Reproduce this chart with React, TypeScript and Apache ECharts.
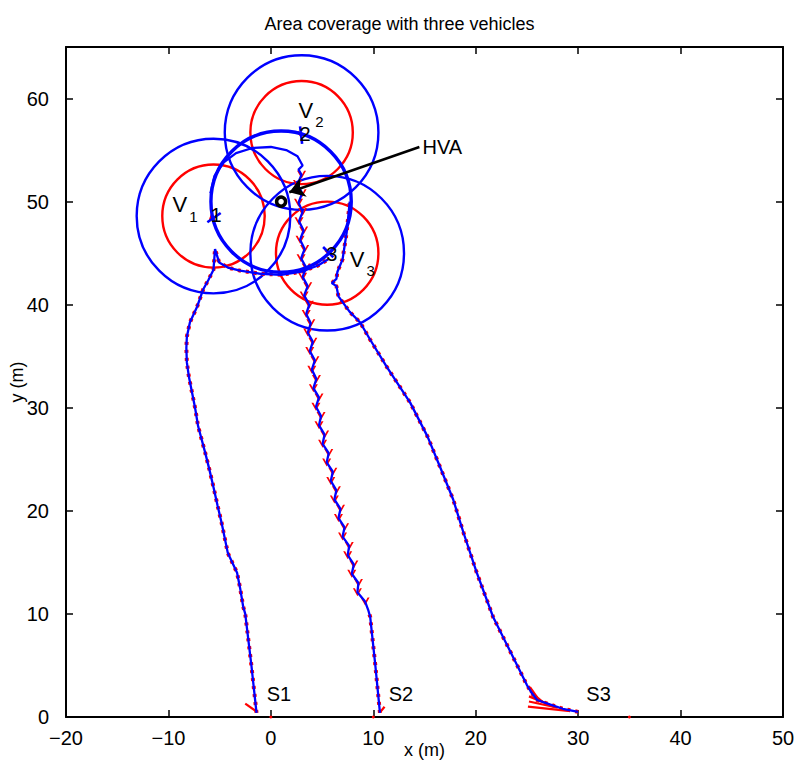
import React, { useEffect, useRef } from "react";
import * as echarts from "echarts";

// ---------- axis ----------
const X_MIN = -20;
const X_MAX = 50;
const X_STEP = 10;
const Y_MIN = 0;
const Y_MAX = 65;
const Y_STEP = 10;

// ---------- trajectories ----------
const v1Path: number[][] = [
  [-1.4, 0.4], [-1.9, 5.0], [-2.5, 10.0], [-2.7, 10.7], [-3.0, 12.5], [-3.3, 14.0],
  [-4.2, 15.9], [-4.8, 18.8], [-5.2, 20.5], [-5.6, 22.3], [-6.0, 24.0], [-6.4, 25.6],
  [-7.1, 28.2], [-7.4, 30.0], [-7.7, 31.5], [-8.0, 33.0], [-8.2, 34.4], [-8.25, 35.8],
  [-8.2, 36.9], [-7.9, 38.3], [-7.2, 39.8], [-6.6, 41.5], [-6.1, 42.4], [-5.6, 43.4],
  [-5.45, 45.4], [-5.05, 44.1], [-4.2, 43.6], [-3.0, 43.3], [-1.0, 43.0], [1.0, 42.9],
  [3.0, 43.2], [4.6, 43.8], [5.6, 44.4],
];

const v2Lower: number[][] = [[10.65, 0.4], [10.2, 5.0], [9.7, 9.7], [9.5, 10.4]];
const v2Zigzag: number[][] = [
  [9.2, 11.2], [8.45, 12.1], [8.55, 13.0], [7.9, 13.9], [8.1, 14.8], [7.5, 15.7],
  [7.65, 16.6], [7.0, 17.5], [7.2, 18.4], [6.6, 19.3], [6.8, 20.2], [6.2, 21.1],
  [6.4, 22.0], [5.85, 22.9], [6.05, 23.8], [5.45, 24.7], [5.65, 25.6], [5.05, 26.5],
  [5.25, 27.4], [4.7, 28.3], [4.9, 29.2], [4.4, 30.1], [4.7, 31.0], [4.15, 31.9],
  [4.45, 32.8], [4.0, 33.7], [4.3, 34.6], [3.8, 35.5], [4.1, 36.4], [3.6, 37.3],
  [3.9, 38.2], [3.45, 39.1], [3.75, 40.0], [3.25, 40.9], [3.6, 41.8], [3.1, 42.7],
  [3.45, 43.6], [2.95, 44.5], [3.3, 45.4], [2.85, 46.3], [3.2, 47.2], [2.75, 48.1],
  [3.1, 49.0], [2.7, 49.9], [3.05, 50.8], [2.6, 51.7], [3.0, 52.6],
];
const v2Upper: number[][] = [
  [2.7, 53.1], [3.1, 53.5], [2.6, 54.4], [1.5, 55.0], [0.0, 55.3], [-1.8, 55.2],
  [-3.4, 54.7], [-4.6, 53.8], [-5.5, 52.5], [-5.9, 50.8],
];

const v3Path: number[][] = [
  [30.0, 0.5], [28.5, 0.8], [27.3, 1.2], [26.0, 1.65], [25.5, 2.3], [25.0, 3.1],
  [23.4, 6.3], [21.7, 9.7], [20.1, 14.0], [18.8, 17.9], [17.8, 21.1], [16.5, 24.3],
  [15.3, 27.2], [13.6, 30.5], [11.3, 34.0], [9.7, 36.6], [8.7, 38.3], [7.7, 39.3],
  [6.6, 40.8], [6.4, 41.8], [5.95, 42.1], [6.4, 42.5], [6.5, 43.2], [7.0, 44.4],
  [7.4, 47.0], [7.7, 50.0],
];

// ---------- circles ----------
const vehicleCenters: number[][] = [[-5.6, 48.6], [3.0, 56.7], [5.5, 45.0]];
const INNER_RADIUS = 5;
const OUTER_RADIUS = 7.5;
const hva: number[] = [1.0, 50.0];
const ORBIT_RADIUS = 6.85;

// ---------- short segments ----------
const headingMarks: number[][][] = [
  [[-6.2, 48.0], [-4.9, 48.9]],
  [[2.85, 57.3], [3.05, 55.6]],
  [[5.1, 45.6], [6.1, 44.6]],
];
const redTicks: number[][][] = [
  [[-5.95, 48.2], [-5.75, 48.8]],
  [[2.6, 56.8], [3.0, 56.3]],
  [[5.3, 45.3], [5.6, 45.0]],
  [[-1.5, 0.6], [-2.5, 1.3]],
  [[10.7, 0.5], [11.1, 1.0]],
  [[29.0, 0.6], [25.1, 1.0]],
  [[28.0, 0.9], [25.2, 1.5]],
  [[27.2, 1.2], [25.2, 2.0]],
  [[26.5, 1.5], [25.3, 2.5]],
  [[26.0, 1.9], [25.3, 2.9]],
];
const axisDots: number[][] = [[0, 0], [10, 0], [35, 0]];
const hvaArrow: number[][] = [[14.5, 55.3], [1.8, 50.9]];

// ---------- texts: [x, y, text] ----------
const vLabels: (number | string)[][] = [
  [-9.6, 49.3, "1"],
  [2.7, 58.5, "2"],
  [7.7, 44.0, "3"],
];
const plainLabels: (number | string)[][] = [
  [-5.9, 48.7, "1"],
  [2.8, 56.6, "2"],
  [5.4, 44.9, "3"],
  [-0.4, 2.2, "S1"],
  [11.5, 2.2, "S2"],
  [30.8, 2.2, "S3"],
  [14.8, 55.3, "HVA"],
];

const FONT = "'Liberation Sans', Arial, Helvetica, sans-serif";
const BLUE = "#0000ff";
const RED = "#ff0000";

const fmt = (v: number) => (v % 10 === 0 ? String(v).replace("-", "\u2212") : "");

export default function App() {
  const ref = useRef<HTMLDivElement>(null);
  useEffect(() => {
    document.body.style.margin = "0";
    if (!ref.current) return;
    const chart = echarts.init(ref.current, null, { renderer: "svg" });

    const circleSeries = (data: number[][], color: string, width: number, z: number) => ({
      type: "custom",
      coordinateSystem: "cartesian2d",
      data,
      encode: { x: 0, y: 1 },
      silent: true,
      z,
      renderItem: (_p: any, api: any) => {
        const c = api.coord([api.value(0), api.value(1)]);
        const s = api.size([api.value(2), api.value(2)]);
        return {
          type: "ellipse",
          shape: { cx: c[0], cy: c[1], rx: s[0], ry: s[1] },
          style: { fill: "none", stroke: color, lineWidth: width },
        };
      },
    });

    const lineSeries = (data: number[][], z: number) => ({
      type: "line",
      data,
      showSymbol: false,
      symbol: "none",
      silent: true,
      z,
      lineStyle: { color: BLUE, width: 2.3 },
    });

    const redUnder = (data: number[][]) => ({
      type: "line",
      data,
      showSymbol: false,
      symbol: "none",
      silent: true,
      z: 3,
      lineStyle: { color: RED, width: 4, type: [3, 5] },
    });

    const axisCommon = {
      type: "value",
      axisLine: { show: true, onZero: false, lineStyle: { color: "#000", width: 2 } },
      axisTick: { show: true, inside: true, length: 7, lineStyle: { color: "#000", width: 1.5 } },
      splitLine: { show: false },
    };

    const textCommon = { fontFamily: FONT, color: "#000" };

    const option: any = {
      animation: false,
      backgroundColor: "#fff",
      textStyle: { fontFamily: FONT },
      title: {
        text: "Area coverage with three vehicles",
        left: "center",
        top: 10,
        textStyle: { ...textCommon, fontSize: 18, fontWeight: "normal" },
      },
      grid: {
        left: 66,
        right: 16,
        top: 47,
        bottom: 50,
        containLabel: false,
        outerBoundsMode: "none",
      },
      xAxis: [
        {
          ...axisCommon,
          position: "bottom",
          min: X_MIN,
          max: X_MAX,
          interval: X_STEP,
          name: "x (m)",
          nameLocation: "middle",
          nameGap: 24,
          nameMoveOverlap: false,
          nameTextStyle: { ...textCommon, fontSize: 18, verticalAlign: "top" },
          axisLabel: { formatter: fmt, ...textCommon, fontSize: 20, margin: 11 },
        },
        {
          ...axisCommon,
          position: "top",
          min: X_MIN,
          max: X_MAX,
          interval: X_STEP,
          axisLabel: { show: false },
        },
      ],
      yAxis: [
        {
          ...axisCommon,
          position: "left",
          min: Y_MIN,
          max: Y_MAX,
          interval: Y_STEP,
          name: "y (m)",
          nameLocation: "middle",
          nameGap: 40,
          nameMoveOverlap: false,
          nameTextStyle: { ...textCommon, fontSize: 18 },
          axisLabel: { formatter: fmt, ...textCommon, fontSize: 20, margin: 17 },
        },
        {
          ...axisCommon,
          position: "right",
          min: Y_MIN,
          max: Y_MAX,
          interval: Y_STEP,
          axisLabel: { show: false },
        },
      ],
      series: [
        circleSeries(vehicleCenters.map((c) => [c[0], c[1], INNER_RADIUS]), RED, 2.4, 2),
        circleSeries(vehicleCenters.map((c) => [c[0], c[1], OUTER_RADIUS]), BLUE, 2.4, 2),
        circleSeries([[hva[0], hva[1], ORBIT_RADIUS]], BLUE, 3.4, 5),
        redUnder(v1Path),
        redUnder(v3Path),
        redUnder([...v2Lower]),
        lineSeries(v1Path, 5),
        lineSeries([...v2Lower, ...v2Zigzag, ...v2Upper], 5),
        lineSeries(v3Path, 5),
        {
          type: "scatter",
          data: v2Zigzag,
          symbol: "path://M0 0 L5 8 L10 0 L7.8 0 L5 4.8 L2.2 0 Z",
          symbolSize: [9, 8],
          itemStyle: { color: RED, opacity: 1 },
          silent: true,
          z: 4,
        },
        {
          type: "lines",
          coordinateSystem: "cartesian2d",
          data: redTicks.map((c) => ({ coords: c })),
          lineStyle: { color: RED, width: 2.2, opacity: 1 },
          silent: true,
          z: 4,
        },
        {
          type: "lines",
          coordinateSystem: "cartesian2d",
          data: headingMarks.map((c) => ({ coords: c })),
          lineStyle: { color: BLUE, width: 2.6, opacity: 1 },
          silent: true,
          z: 6,
        },
        {
          type: "lines",
          coordinateSystem: "cartesian2d",
          data: [{ coords: hvaArrow }],
          symbol: ["none", "arrow"],
          symbolSize: 15,
          lineStyle: { color: "#000", width: 2.6, opacity: 1 },
          silent: true,
          z: 8,
        },
        {
          type: "scatter",
          data: [hva],
          symbol: "circle",
          symbolSize: 9,
          itemStyle: { color: "#fff", borderColor: "#000", borderWidth: 3.5, opacity: 1 },
          silent: true,
          z: 9,
        },
        {
          type: "scatter",
          data: axisDots,
          symbol: "circle",
          symbolSize: 3,
          clip: false,
          itemStyle: { color: RED, opacity: 1 },
          silent: true,
          z: 9,
        },
        {
          type: "scatter",
          data: plainLabels,
          symbolSize: 0,
          silent: true,
          z: 10,
          itemStyle: { opacity: 1 },
          label: {
            show: true,
            position: [0, 0],
            align: "left",
            verticalAlign: "middle",
            formatter: (p: any) => p.data[2],
            ...textCommon,
            fontSize: 20,
          },
        },
        {
          type: "scatter",
          data: vLabels,
          symbolSize: 0,
          silent: true,
          z: 10,
          itemStyle: { opacity: 1 },
          label: {
            show: true,
            position: [0, 0],
            align: "left",
            verticalAlign: "middle",
            formatter: (p: any) => `{v|V}{s|${p.data[2]}}`,
            rich: {
              v: { ...textCommon, fontSize: 22, verticalAlign: "top", lineHeight: 30 },
              s: { ...textCommon, fontSize: 15, verticalAlign: "bottom", lineHeight: 30, padding: [0, 0, 0, 2] },
            },
          },
        },
      ],
    };
    chart.setOption(option);
    return () => chart.dispose();
  }, []);
  return <div ref={ref} style={{ width: 799, height: 767 }} />;
}
